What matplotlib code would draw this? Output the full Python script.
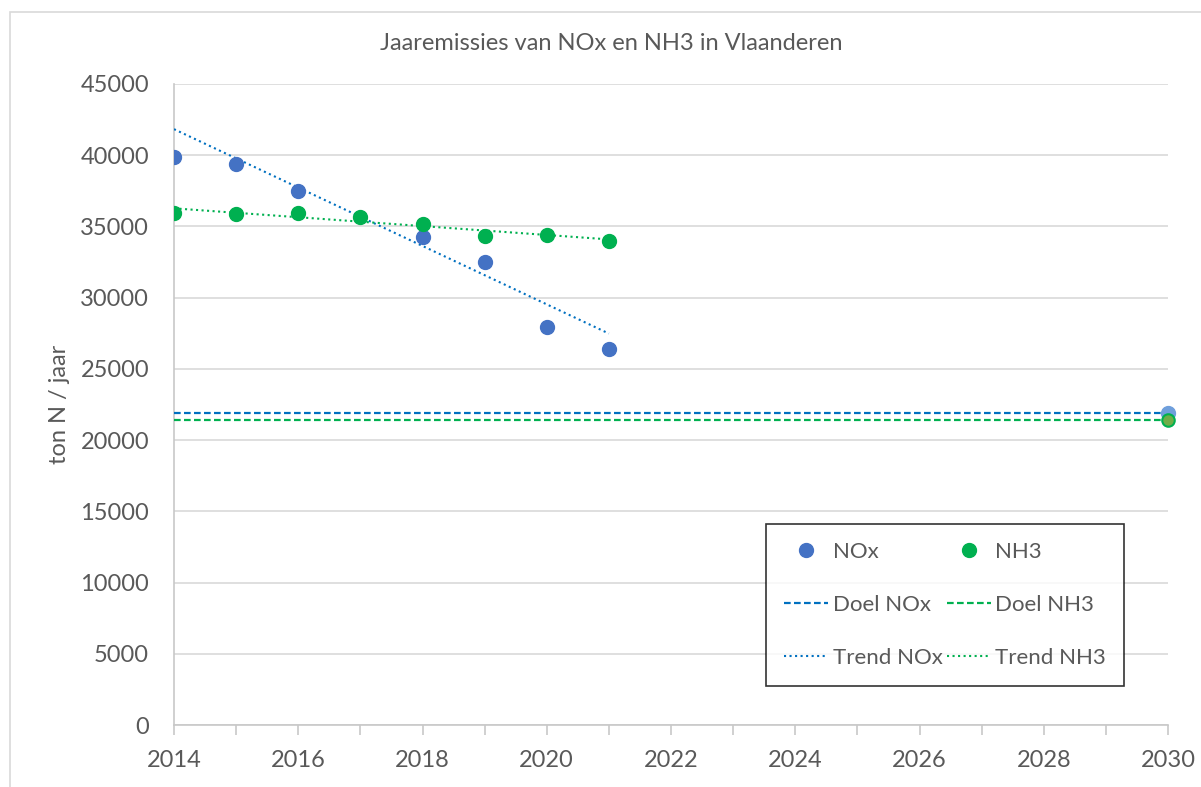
import numpy as np
import matplotlib.pyplot as plt
from matplotlib.patches import Rectangle

plt.rcParams['font.family'] = ['Lato', 'DejaVu Sans']

jaren = [2014, 2015, 2016, 2017, 2018, 2019, 2020, 2021]
jaren_nox = [2014, 2015, 2016, 2018, 2019, 2020, 2021]
nox = [39870, 39380, 37490, 34260, 32500, 27940, 26400]
nh3 = [35940, 35870, 35960, 35630, 35190, 34330, 34380, 33980]

doel_jaar = 2030
doel_nox = 21900
doel_nh3 = 21420

trend_jaren = [2014, 2021]
trend_nox = [41830, 27480]
trend_nh3 = [36270, 34090]

blauw = '#4472C4'
groen = '#00B050'
lijnblauw = '#0070C0'
grijs = '#595959'

fig = plt.figure(figsize=(12.01, 7.87), dpi=100)
fig.patches.append(Rectangle((10 / 1201, -0.1), 1.2, 1 - 12 / 787 + 0.1,
                             transform=fig.transFigure, fill=False,
                             edgecolor='#d9d9d9', linewidth=1.2))
ax = fig.add_axes([174 / 1201, 1 - 725 / 787, (1168 - 174) / 1201, (725 - 84) / 787])

h_nox, = ax.plot(jaren_nox, nox, 'o', color=blauw, markersize=10, label='NOx', zorder=4)
h_nh3, = ax.plot(jaren, nh3, 'o', color=groen, markersize=10, label='NH3', zorder=5)
h_dnox, = ax.plot([2014, doel_jaar], [doel_nox, doel_nox], '--', color=lijnblauw, lw=1.6,
                  dashes=(3, 1.5), label='Doel NOx', zorder=3)
h_dnh3, = ax.plot([2014, doel_jaar], [doel_nh3, doel_nh3], '--', color=groen, lw=1.6,
                  dashes=(3, 1.5), label='Doel NH3', zorder=3)
h_tnox, = ax.plot(trend_jaren, trend_nox, ':', color=lijnblauw, lw=1.5, label='Trend NOx', zorder=3)
h_tnh3, = ax.plot(trend_jaren, trend_nh3, ':', color=groen, lw=1.5, label='Trend NH3', zorder=3)
ax.plot([doel_jaar], [doel_nox], 'o', color='#6f9fdc', markersize=10, clip_on=False, zorder=6)
ax.plot([doel_jaar], [doel_nh3], 'o', markerfacecolor='#70AD47', markeredgecolor=groen,
        markeredgewidth=1.5, markersize=9, clip_on=False, zorder=7)

ax.set_xlim(2014, 2030)
ax.set_ylim(0, 45000)
ax.set_xticks(range(2014, 2031, 2))
ax.set_xticks(range(2014, 2031), minor=True)
ax.set_yticks(range(0, 45001, 5000))
ax.grid(axis='y', color='#d9d9d9', lw=1.2)
ax.set_axisbelow(True)
for s in ['top', 'right']:
    ax.spines[s].set_visible(False)
for s in ['left', 'bottom']:
    ax.spines[s].set_color('#c8c8c8')
    ax.spines[s].set_linewidth(1.2)
ax.tick_params(axis='y', length=0, labelsize=17, labelcolor=grijs, pad=18)
ax.tick_params(axis='x', which='both', direction='out', length=7, width=1.2,
               color='#c8c8c8', labelsize=17, labelcolor=grijs, pad=11)
ax.set_ylabel('ton N / jaar', fontsize=17, color=grijs, labelpad=7)
fig.text(611 / 1201, 1 - 43 / 787, 'Jaaremissies van NOx en NH3 in Vlaanderen',
         fontsize=17, color=grijs, ha='center', va='center')

leg = ax.legend([h_nox, h_dnox, h_tnox, h_nh3, h_dnh3, h_tnh3],
                ['NOx', 'Doel NOx', 'Trend NOx', 'NH3', 'Doel NH3', 'Trend NH3'],
                ncol=2, loc='lower left', bbox_to_anchor=(592 / 994, 39 / 641, 358 / 994, 169 / 641),
                mode='expand', fontsize=16, frameon=True, fancybox=False, edgecolor='black',
                borderpad=0.8, labelspacing=1.5, handlelength=2.0, handletextpad=0.2,
                columnspacing=1.0, labelcolor=grijs, borderaxespad=0)
leg.get_frame().set_linewidth(1.2)
leg.set_zorder(10)

fig.savefig('out.png', dpi=100)
